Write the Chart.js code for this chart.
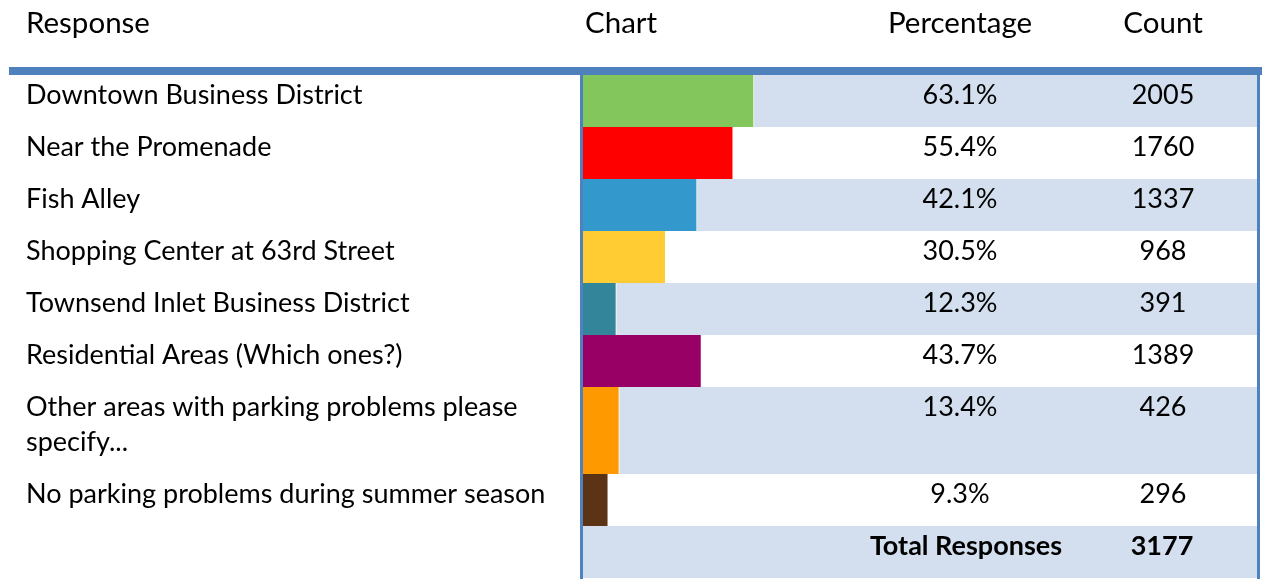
<!DOCTYPE html>
<html><head><meta charset="utf-8">
<script src="https://cdn.jsdelivr.net/npm/chart.js@4"></script>
<style>html,body{margin:0;padding:0;background:#fff;overflow:hidden}#wrap{width:1262px;height:579px}</style>
</head><body><div id="wrap"><canvas id="c" width="1262" height="579" style="width:1262px;height:579px"></canvas></div>
<script>
// ---- data ----
const headers = ['Response', 'Chart', 'Percentage', 'Count'];
const responses = [
  'Downtown Business District',
  'Near the Promenade',
  'Fish Alley',
  'Shopping Center at 63rd Street',
  'Townsend Inlet Business District',
  'Residential Areas (Which ones?)',
  ['Other areas with parking problems please', 'specify...'],
  'No parking problems during summer season'
];
const percentages = [63.1, 55.4, 42.1, 30.5, 12.3, 43.7, 13.4, 9.3];
const counts = [2005, 1760, 1337, 968, 391, 1389, 426, 296];
const totalLabel = 'Total Responses';
const totalCount = 3177;
const barColors = ['#82C65C', '#FF0000', '#3399CC', '#FFCC33', '#33859A', '#990066', '#FF9900', '#5C3314'];

// ---- layout / style ----
const W = 1262, H = 579;
const STRIPE = '#D3DFEE', RULE = '#4F81BD';
const FONT = 'Lato, "DejaVu Sans", sans-serif';
const BODY_SIZE = 27, HEAD_SIZE = 29.5;
const ROW_H = 52, LINE_EXTRA = 35;
const TABLE_TOP = 75, BAR_LEFT = 583, BAR_FULL = 854, TABLE_RIGHT = 1257;
const LABEL_X = 26, PCT_X = 960, COUNT_X = 1163;

const lineCounts = responses.map(r => Array.isArray(r) ? r.length : 1).concat([1]);
const heights = lineCounts.map(n => ROW_H + (n - 1) * LINE_EXTRA);
const tops = [];
let acc = 0;
heights.forEach(h => { tops.push(acc); acc += h; });
const TOTAL_H = acc;

const datasets = percentages.map((p, i) => ({
  label: Array.isArray(responses[i]) ? responses[i].join(' ') : responses[i],
  data: [{ x: p, y: tops[i] + heights[i] / 2 }],
  backgroundColor: barColors[i],
  borderColor: '#FFFFFF',
  borderWidth: { top: 0, bottom: 0, left: 0, right: 1 },
  borderSkipped: false,
  barThickness: heights[i],
  grouped: false
}));

const tablePlugin = {
  id: 'table',
  beforeDraw(chart) {
    const { ctx, chartArea } = chart;
    const ys = chart.scales.y;
    ctx.save();
    ctx.fillStyle = '#FFFFFF';
    ctx.fillRect(0, 0, chart.width, chart.height);
    ctx.fillStyle = STRIPE;
    heights.forEach((h, i) => {
      if (i % 2 === 0) {
        const y0 = ys.getPixelForValue(tops[i]);
        const y1 = ys.getPixelForValue(tops[i] + h);
        ctx.fillRect(chartArea.left, y0, TABLE_RIGHT - chartArea.left, y1 - y0);
      }
    });
    ctx.restore();
  },
  afterDatasetsDraw(chart) {
    const { ctx } = chart;
    const ys = chart.scales.y;
    ctx.save();
    // rules
    ctx.fillStyle = RULE;
    ctx.fillRect(9, TABLE_TOP - 8, W - 9, 8);
    ctx.fillRect(BAR_LEFT - 3, TABLE_TOP, 3, H - TABLE_TOP);
    ctx.fillRect(TABLE_RIGHT, TABLE_TOP, 3, H - TABLE_TOP);
    // headers
    ctx.fillStyle = '#000000';
    ctx.textBaseline = 'alphabetic';
    ctx.font = `${HEAD_SIZE}px ${FONT}`;
    ctx.textAlign = 'left';
    ctx.fillText(headers[0], LABEL_X, 33);
    ctx.fillText(headers[1], BAR_LEFT + 2, 33);
    ctx.textAlign = 'center';
    ctx.fillText(headers[2], PCT_X, 33);
    ctx.fillText(headers[3], COUNT_X, 33);
    // body
    ctx.font = `${BODY_SIZE}px ${FONT}`;
    responses.forEach((r, i) => {
      const y0 = ys.getPixelForValue(tops[i]);
      const lines = Array.isArray(r) ? r : [r];
      ctx.textAlign = 'left';
      lines.forEach((ln, j) => ctx.fillText(ln, LABEL_X, y0 + 28.5 + j * LINE_EXTRA));
      ctx.textAlign = 'center';
      ctx.fillText(percentages[i].toFixed(1) + '%', PCT_X, y0 + 28.5);
      ctx.fillText(String(counts[i]), COUNT_X, y0 + 28.5);
    });
    const yt = ys.getPixelForValue(tops[responses.length]);
    ctx.font = `bold ${BODY_SIZE}px ${FONT}`;
    ctx.textAlign = 'center';
    ctx.fillText(totalLabel, PCT_X + 6, yt + 28.5);
    ctx.fillText(String(totalCount), COUNT_X - 1, yt + 28.5);
    ctx.restore();
  }
};

new Chart(document.getElementById('c').getContext('2d'), {
  type: 'bar',
  data: { datasets },
  options: {
    indexAxis: 'y',
    responsive: false,
    animation: false,
    devicePixelRatio: 1,
    layout: { padding: { left: BAR_LEFT, right: W - BAR_FULL, top: TABLE_TOP, bottom: H - TABLE_TOP - TOTAL_H } },
    scales: {
      x: { type: 'linear', min: 0, max: 100, display: false, offset: false },
      y: { type: 'linear', min: 0, max: TOTAL_H, reverse: true, display: false, offset: false }
    },
    plugins: { legend: { display: false }, tooltip: { enabled: false }, title: { display: false } }
  },
  plugins: [tablePlugin]
});
</script>
</body></html>
